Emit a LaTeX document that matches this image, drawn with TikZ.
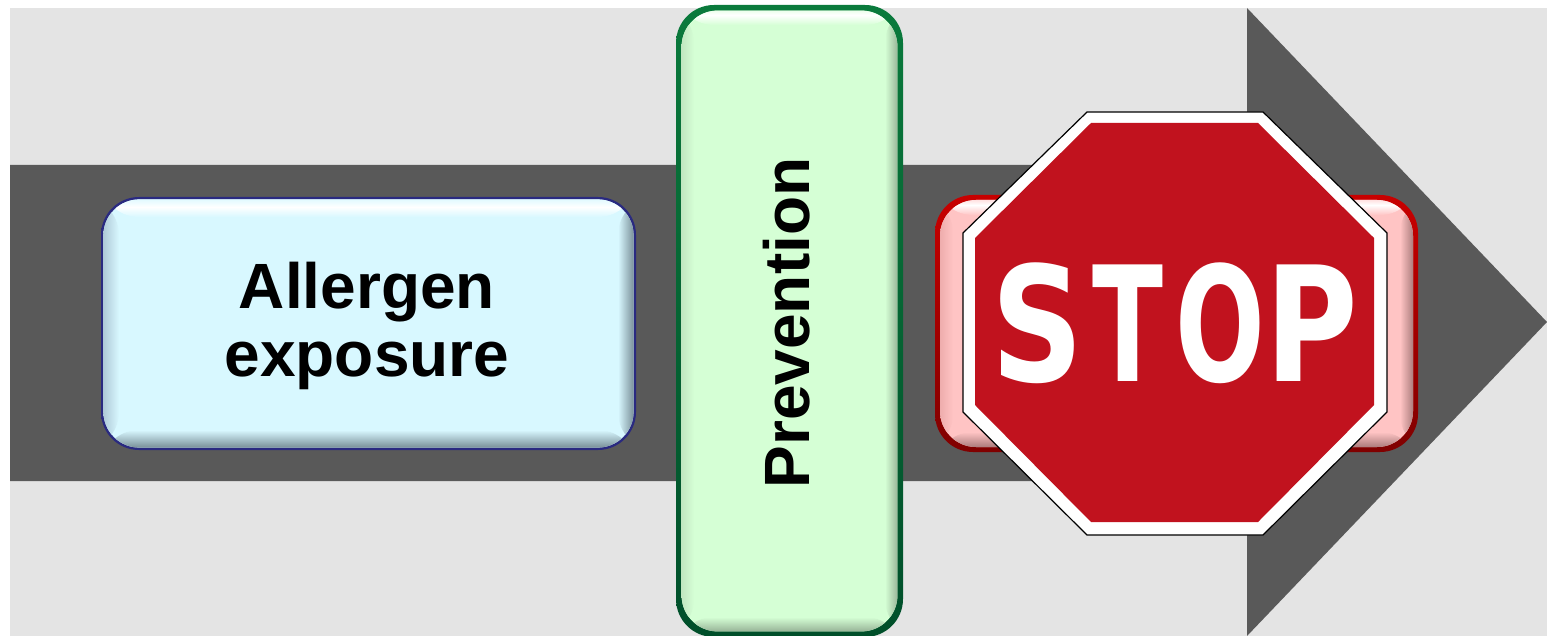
\documentclass[tikz,border=0pt]{standalone}
\usepackage{fontspec}
\setmainfont{Liberation Sans}
\newfontfamily\signfont{DejaVu Sans}

\definecolor{backgray}{HTML}{E4E4E4}
\definecolor{arrowgray}{HTML}{595959}
\definecolor{signred}{HTML}{C1121E}
\definecolor{blueedge}{HTML}{2A2A80}
\definecolor{blueface}{HTML}{D8F8FF}
\definecolor{blueleft}{HTML}{A9C3D2}
\definecolor{bluedark}{HTML}{6C818A}
\definecolor{greentop}{HTML}{0A7A3C}
\definecolor{greenbot}{HTML}{004F2A}
\definecolor{greenface}{HTML}{D5FFD5}
\definecolor{greenleft}{HTML}{B8DCB8}
\definecolor{greendark}{HTML}{7F967F}
\definecolor{redtop}{HTML}{C80000}
\definecolor{redbot}{HTML}{800000}
\definecolor{redface}{HTML}{FFC4C4}
\definecolor{redleft}{HTML}{E8A4A4}
\definecolor{reddark}{HTML}{8F6464}

\tikzset{
    % edge width, edge top, edge bottom, face, left bevel, dark bevel
    bevelbox/.style n args={6}{
        rounded corners=19pt, inner sep=0pt,
        path picture={
            \coordinate (nw) at (path picture bounding box.north west);
            \coordinate (se) at (path picture bounding box.south east);
            \shade[top color=#2, bottom color=#3] (nw) rectangle (se);
            \begin{scope}
                \clip[rounded corners=18pt] ([shift={(#1,-#1)}]nw) rectangle ([shift={(-#1,#1)}]se);
                \fill[#4] (nw) rectangle (se);
                \shade[left color=#5, right color=#4] (nw) rectangle ([xshift=9pt]nw |- se);
                \shade[left color=#4, right color=#6] ([xshift=-9pt]se |- nw) rectangle (se);
                \shade[top color=#4, bottom color=#6] ([yshift=10pt]nw |- se) rectangle (se);
                \shade[top color=#4, bottom color=#4, middle color=white] (nw) rectangle ([yshift=-10pt]nw -| se);
            \end{scope}
        }
    },
    boxtext/.style={font=\fontsize{32}{34}\selectfont\bfseries, inner sep=0pt, align=center},
    signtext/.style={font=\fontsize{80}{83}\selectfont\signfont\bfseries, text=white, inner sep=0pt}
}

\begin{document}
\begin{tikzpicture}[x=0.5pt, y=-0.5pt]
    \useasboundingbox (0,0) rectangle (1547,636);

    % Define the points of the arrow
    \coordinate (tailtop) at (10,165);
    \coordinate (tailbot) at (10,481);
    \coordinate (necktop) at (1247,165);
    \coordinate (neckbot) at (1247,481);
    \coordinate (headtop) at (1247,8);
    \coordinate (headbot) at (1247,636);
    \coordinate (tip) at (1547,322);

    % Draw the background and the arrow
    \fill[backgray] (10,8) rectangle (1547,636);
    \fill[arrowgray] (tailtop) -- (necktop) -- (headtop) -- (tip) -- (headbot) -- (neckbot) -- (tailbot) -- cycle;

    % Draw the boxes
    \node (allergen) at (368.5,323.5) [minimum width=267.5pt, minimum height=126.5pt,
        bevelbox={1.2pt}{blueedge}{blueedge}{blueface}{blueleft}{bluedark}] {};
    \node (prevention) at (789.5,321) [minimum width=113.5pt, minimum height=316pt,
        bevelbox={2.8pt}{greentop}{greenbot}{greenface}{greenleft}{greendark}] {};
    \node (stopbox) at (1176.5,323.5) [minimum width=241.5pt, minimum height=128.5pt,
        bevelbox={2.5pt}{redtop}{redbot}{redface}{redleft}{reddark}] {};

    % Place the labels of the boxes
    \node (allergenlabel) at (367,326) [boxtext] {Allergen\\exposure};
    \node (preventionlabel) at (809,323) [boxtext, rotate=90, anchor=base] {Prevention};

    % Draw the sign
    \draw[fill=white, line width=0.6pt] (1087,112) -- (1263,112) -- (1387,233) -- (1387,412)
        -- (1263,535) -- (1087,535) -- (963,412) -- (963,233) -- cycle;
    \fill[signred] (1091,123) -- (1258,123) -- (1374,238) -- (1374,405)
        -- (1258,522) -- (1091,522) -- (975,405) -- (975,238) -- cycle;
    \node (stoplabel) at (1175,323.5) [signtext] {\scalebox{0.8}[1]{S}\kern4pt\scalebox{0.65}[1]{T}\kern6pt\scalebox{0.66}[1]{O}\kern0.3pt\scalebox{0.79}[1]{P}};
\end{tikzpicture}
\end{document}
